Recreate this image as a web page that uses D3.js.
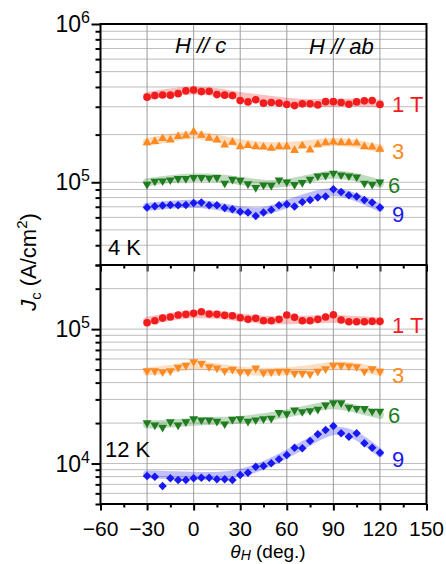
<!DOCTYPE html>
<html>
<head>
<meta charset="utf-8">
<script src="https://cdn.jsdelivr.net/npm/d3@7"></script>
<style>
  body { margin: 0; background: #fff; }
  text { font-family: "Liberation Sans", Arial, sans-serif; fill: #000; }
</style>
</head>
<body>
<div id="app"></div>
<script>
// field angle (deg.) of every measured point
const ANGLES = [-30, -25, -20, -15, -10, -5, 0, 5, 10, 15, 20, 25, 30, 35, 40, 45,
  50, 55, 60, 65, 70, 75, 80, 85, 90, 95, 100, 105, 110, 115, 120];
// angles of the smoothed guide bands
const BAND_ANGLES = [-30, -15, 0, 15, 30, 45, 60, 75, 90, 105, 120];
const X_TICKS = [-60, -30, 0, 30, 60, 90, 120, 150];
const X_MINOR = [-45, -15, 15, 45, 75, 105, 135];
const FIELD_LABELS = ['1 T', '3', '6', '9'];

// 4 K, Jc in A/cm2
const jc4K_1T = [3.45e5, 3.53e5, 3.56e5, 3.55e5, 3.63e5, 3.78e5, 3.83e5, 3.74e5, 3.76e5, 3.58e5, 3.55e5,
  3.53e5, 3.28e5, 3.22e5, 3.32e5, 3.16e5, 3.19e5, 3.16e5, 3.10e5, 3.05e5, 3.13e5, 3.13e5, 3.08e5,
  3.23e5, 3.23e5, 3.19e5, 3.11e5, 3.22e5, 3.27e5, 3.28e5, 3.10e5];
const jc4K_3T = [1.78e5, 1.81e5, 1.89e5, 1.85e5, 1.95e5, 1.97e5, 2.09e5, 1.98e5, 1.90e5, 1.85e5, 1.72e5,
  1.79e5, 1.68e5, 1.71e5, 1.68e5, 1.67e5, 1.64e5, 1.68e5, 1.68e5, 1.59e5, 1.70e5, 1.60e5, 1.73e5,
  1.78e5, 1.80e5, 1.78e5, 1.78e5, 1.77e5, 1.68e5, 1.67e5, 1.62e5];
const jc4K_6T = [0.971e5, 1.015e5, 1.019e5, 1.034e5, 1.055e5, 1.055e5, 1.071e5, 1.071e5, 1.064e5, 1.071e5,
  0.986e5, 1.044e5, 1.029e5, 0.976e5, 0.926e5, 0.961e5, 0.957e5, 1.034e5, 1.004e5, 0.967e5, 0.996e5,
  1.044e5, 1.096e5, 1.107e5, 1.140e5, 1.112e5, 1.096e5, 1.080e5, 0.986e5, 0.971e5, 1.004e5];
const jc4K_9T = [6.92e4, 7.06e4, 7.13e4, 7.19e4, 7.16e4, 7.19e4, 7.40e4, 7.45e4, 7.16e4, 7.16e4, 6.88e4,
  6.76e4, 6.50e4, 6.44e4, 6.13e4, 6.44e4, 6.69e4, 7.16e4, 7.26e4, 7.03e4, 7.51e4, 7.73e4, 8.01e4,
  8.12e4, 9.03e4, 8.69e4, 8.28e4, 8.12e4, 7.73e4, 7.45e4, 6.92e4];
const band4K_1T = [3.5e5, 3.7e5, 3.85e5, 3.72e5, 3.5e5, 3.36e5, 3.22e5, 3.15e5, 3.18e5, 3.2e5, 3.15e5];
const band4K_3T = [1.8e5, 1.9e5, 2.04e5, 1.88e5, 1.76e5, 1.69e5, 1.68e5, 1.74e5, 1.82e5, 1.76e5, 1.63e5];
const band4K_6T = [1.0e5, 1.05e5, 1.08e5, 1.07e5, 1.02e5, 0.97e5, 0.98e5, 1.06e5, 1.14e5, 1.08e5, 0.98e5];
const band4K_9T = [7.0e4, 7.2e4, 7.4e4, 7.1e4, 6.6e4, 6.4e4, 7.3e4, 8.2e4, 8.9e4, 8.1e4, 6.9e4];

// 12 K, Jc in A/cm2
const jc12K_1T = [1.116e5, 1.155e5, 1.209e5, 1.230e5, 1.273e5, 1.289e5, 1.311e5, 1.347e5, 1.296e5, 1.289e5,
  1.267e5, 1.258e5, 1.216e5, 1.183e5, 1.204e5, 1.155e5, 1.155e5, 1.183e5, 1.273e5, 1.224e5, 1.155e5,
  1.155e5, 1.183e5, 1.230e5, 1.280e5, 1.169e5, 1.135e5, 1.135e5, 1.135e5, 1.143e5, 1.143e5];
const jc12K_3T = [4.90e4, 4.90e4, 4.80e4, 4.90e4, 5.20e4, 5.38e4, 5.72e4, 5.56e4, 5.25e4, 5.13e4, 4.90e4,
  5.02e4, 4.80e4, 4.80e4, 5.13e4, 4.74e4, 4.80e4, 4.85e4, 4.85e4, 4.69e4, 4.69e4, 4.63e4, 4.85e4,
  5.07e4, 5.38e4, 5.38e4, 5.31e4, 5.25e4, 4.85e4, 5.07e4, 4.85e4];
const jc12K_6T = [2.01e4, 1.93e4, 1.86e4, 2.04e4, 1.93e4, 2.04e4, 2.15e4, 2.11e4, 2.11e4, 2.06e4, 1.97e4,
  2.13e4, 2.15e4, 2.06e4, 2.11e4, 2.15e4, 2.17e4, 2.39e4, 2.34e4, 2.50e4, 2.43e4, 2.47e4, 2.53e4,
  2.72e4, 2.83e4, 2.83e4, 2.62e4, 2.57e4, 2.56e4, 2.45e4, 2.45e4];
const jc12K_9T = [8.07e3, 7.97e3, 6.80e3, 7.76e3, 7.54e3, 7.54e3, 7.76e3, 7.84e3, 7.84e3, 7.63e3, 7.63e3,
  7.54e3, 8.21e3, 8.54e3, 9.47e3, 9.58e3, 1.003e4, 1.075e4, 1.157e4, 1.311e4, 1.297e4, 1.470e4, 1.650e4,
  1.776e4, 1.901e4, 1.678e4, 1.583e4, 1.678e4, 1.413e4, 1.311e4, 1.203e4];
const band12K_1T = [1.15e5, 1.24e5, 1.30e5, 1.29e5, 1.22e5, 1.17e5, 1.16e5, 1.18e5, 1.2e5, 1.17e5, 1.14e5];
const band12K_3T = [4.85e4, 5.0e4, 5.5e4, 5.2e4, 4.9e4, 4.8e4, 4.85e4, 5.0e4, 5.45e4, 5.3e4, 4.8e4];
const band12K_6T = [1.95e4, 1.98e4, 2.05e4, 2.08e4, 2.1e4, 2.2e4, 2.35e4, 2.55e4, 2.8e4, 2.55e4, 2.3e4];
const band12K_9T = [8.3e3, 8.2e3, 8.1e3, 8.0e3, 8.4e3, 9.6e3, 1.17e4, 1.46e4, 1.85e4, 1.65e4, 1.2e4];

const COLORS = ['#f21c1c', '#fb8a22', '#1f7d1f', '#1818f2'];

const width = 446;
const height = 564;
const left = 100.5;
const right = 426.5;

const svg = d3.select('#app').append('svg')
  .attr('width', width)
  .attr('height', height);

const x = d3.scaleLinear().domain([-60, 150]).range([left, right]);

const panels = [
  {
    temp: '4 K', top: 24, bottom: 265, domain: [3e4, 1e6], majors: [1e5, 1e6],
    series: [jc4K_1T, jc4K_3T, jc4K_6T, jc4K_9T],
    bands: [band4K_1T, band4K_3T, band4K_6T, band4K_9T],
    symbols: ['circle', 'up', 'down', 'diamond'],
    labelY: [112, 159, 193, 222], tempPos: [108, 255]
  },
  {
    temp: '12 K', top: 265, bottom: 504, domain: [5e3, 3e5], majors: [1e4, 1e5],
    series: [jc12K_1T, jc12K_3T, jc12K_6T, jc12K_9T],
    bands: [band12K_1T, band12K_3T, band12K_6T, band12K_9T],
    symbols: ['circle', 'down', 'down', 'diamond'],
    labelY: [333, 383, 423, 467], tempPos: [105, 457]
  }
];

function markerPath(kind) {
  if (kind === 'circle') return d3.symbol(d3.symbolCircle, 46)();
  if (kind === 'diamond') return d3.symbol(d3.symbolSquare, 36)();
  return d3.symbol(d3.symbolTriangle, 34)();
}
function markerRotate(kind) {
  if (kind === 'diamond') return 45;
  if (kind === 'down') return 180;
  return 0;
}

panels.forEach((p) => {
  const y = d3.scaleLog().domain(p.domain).range([p.bottom, p.top]);
  const g = svg.append('g');
  const inside = y.ticks().filter((v) => y(v) > p.top + 0.5 && y(v) < p.bottom - 0.5);

  // horizontal grid at every log tick
  g.append('g').selectAll('line')
    .data(inside)
    .join('line')
    .attr('x1', left).attr('x2', right)
    .attr('y1', (d) => y(d)).attr('y2', (d) => y(d))
    .style('stroke', '#bdbdbd').style('stroke-width', 1);

  // vertical grid at major angles
  g.append('g').selectAll('line')
    .data(X_TICKS.slice(1, -1))
    .join('line')
    .attr('x1', (d) => x(d)).attr('x2', (d) => x(d))
    .attr('y1', p.top).attr('y2', p.bottom)
    .style('stroke', '#9c9c9c').style('stroke-width', 1);

  // smoothed guide bands
  const band = d3.line()
    .x((d, i) => x(BAND_ANGLES[i]))
    .y((d) => y(d))
    .curve(d3.curveBasis);
  p.bands.forEach((b, k) => {
    g.append('path')
      .attr('d', band(b))
      .style('fill', 'none')
      .style('stroke', COLORS[k])
      .style('stroke-opacity', 0.28)
      .style('stroke-width', 8)
      .style('stroke-linecap', 'round');
  });

  // data points
  p.series.forEach((s, k) => {
    const path = markerPath(p.symbols[k]);
    const rot = markerRotate(p.symbols[k]);
    g.append('g').selectAll('path')
      .data(s)
      .join('path')
      .attr('d', path)
      .attr('transform', (d, i) => `translate(${x(ANGLES[i])},${y(d)}) rotate(${rot})`)
      .style('fill', COLORS[k]);
  });

  // field labels on the right
  FIELD_LABELS.forEach((t, k) => {
    g.append('text')
      .attr('x', k === 2 ? 388 : 392)
      .attr('y', p.labelY[k])
      .style('font-size', '22px')
      .style('fill', COLORS[k])
      .text(t);
  });

  // temperature
  g.append('text')
    .attr('x', p.tempPos[0]).attr('y', p.tempPos[1])
    .style('font-size', '22px')
    .text(p.temp);

  // left axis: minor and major ticks
  const minor = y.ticks().filter((v) => !p.majors.includes(v));
  g.append('g')
    .attr('transform', `translate(${left},0)`)
    .call(d3.axisLeft(y).tickValues(minor).tickSize(5).tickFormat(''))
    .call((a) => a.select('.domain').remove())
    .selectAll('line').style('stroke-width', 2);
  g.append('g')
    .attr('transform', `translate(${left},0)`)
    .call(d3.axisLeft(y).tickValues(p.majors).tickSize(9).tickFormat(''))
    .call((a) => a.select('.domain').remove())
    .selectAll('line').style('stroke-width', 2);

  // major labels 10^n
  p.majors.forEach((v) => {
    const t = g.append('text')
      .attr('x', 90).attr('y', y(v) + 8)
      .attr('text-anchor', 'end')
      .style('font-size', '23px');
    t.append('tspan').text('10');
    t.append('tspan').attr('dy', -9).style('font-size', '16px').text(Math.round(Math.log10(v)));
  });

  // bottom axis with outward ticks
  g.append('g')
    .attr('transform', `translate(0,${p.bottom})`)
    .call(d3.axisBottom(x).tickValues(X_MINOR).tickSize(3.5).tickFormat(''))
    .call((a) => a.select('.domain').remove())
    .selectAll('line').style('stroke-width', 2);
  g.append('g')
    .attr('transform', `translate(0,${p.bottom})`)
    .call(d3.axisBottom(x).tickValues(X_TICKS).tickSize(6.5).tickFormat(''))
    .call((a) => a.select('.domain').remove())
    .selectAll('line').style('stroke-width', 2);

  // frame
  g.append('path')
    .attr('d', `M${left},${p.top}H${right}V${p.bottom}H${left}Z`)
    .style('fill', 'none')
    .style('stroke', '#000')
    .style('stroke-width', 2);
});

// x tick labels
svg.append('g').selectAll('text')
  .data(X_TICKS)
  .join('text')
  .attr('x', (d) => x(d))
  .attr('y', 536)
  .attr('text-anchor', 'middle')
  .style('font-size', '21px')
  .text((d) => (d < 0 ? '\u2212' + Math.abs(d) : d));

// x title
const xt = svg.append('text')
  .attr('x', 268).attr('y', 558)
  .attr('text-anchor', 'middle')
  .style('font-size', '19px');
xt.append('tspan').style('font-style', 'italic').text('\u03b8');
xt.append('tspan').attr('dy', 2).style('font-size', '14px').style('font-style', 'italic').text('H');
xt.append('tspan').attr('dy', -2).text(' (deg.)');

// y title
const yt = svg.append('text')
  .attr('transform', 'translate(36,262) rotate(-90)')
  .attr('text-anchor', 'middle')
  .style('font-size', '22px');
yt.append('tspan').style('font-style', 'italic').text('J');
yt.append('tspan').attr('dy', 5).style('font-size', '15px').text('c');
yt.append('tspan').attr('dy', -5).text(' (A/cm');
yt.append('tspan').attr('dy', -9).style('font-size', '15px').text('2');
yt.append('tspan').attr('dy', 9).text(')');

// field direction annotations
svg.append('text')
  .attr('x', 175).attr('y', 53)
  .style('font-size', '22px').style('font-style', 'italic')
  .text('H // c');
svg.append('text')
  .attr('x', 309).attr('y', 54)
  .style('font-size', '22px').style('font-style', 'italic')
  .text('H // ab');
</script>
</body>
</html>
